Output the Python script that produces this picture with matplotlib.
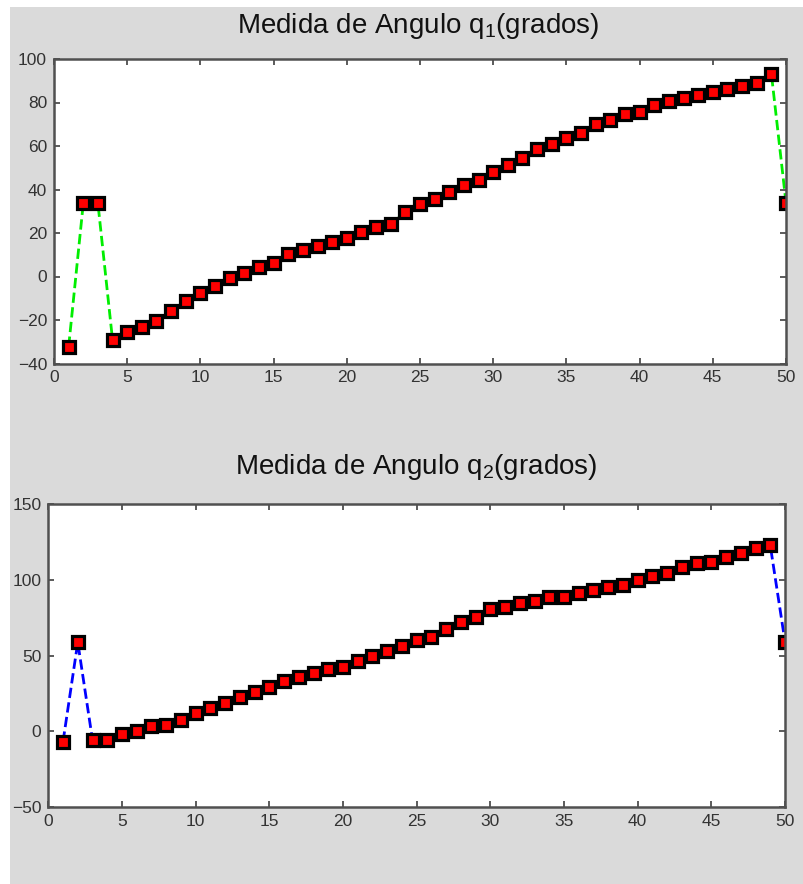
#! /usr/bin/env python

import numpy as np
import matplotlib
matplotlib.use("Agg")
import matplotlib.pyplot as plt
from matplotlib.patches import Rectangle

# muestras
n = np.arange(1, 51)

# angulo q1 (grados)
q1 = [-32.3, 33.6, 33.6, -29.3, -25.6, -23.4, -20.4, -15.8, -11.2, -7.5,
      -4.3, -0.9, 1.7, 4.2, 6.3, 10.2, 12.0, 13.8, 15.8, 17.8,
      20.3, 22.9, 24.1, 29.5, 33.3, 35.7, 39.0, 42.2, 44.2, 48.2,
      51.2, 54.6, 58.5, 60.9, 63.5, 66.1, 70.0, 72.0, 74.5, 75.8,
      79.0, 80.8, 82.2, 83.4, 84.7, 86.1, 87.4, 88.8, 93.3, 33.9]

# angulo q2 (grados)
q2 = [-6.7, 58.8, -5.6, -5.8, -1.8, 0.0, 3.7, 4.5, 7.6, 12.0,
      15.7, 18.6, 23.0, 26.1, 29.6, 33.1, 35.8, 38.8, 41.4, 42.6,
      46.5, 50.0, 52.9, 56.4, 60.1, 62.3, 67.4, 72.2, 75.7, 80.6,
      82.3, 84.7, 86.1, 88.7, 88.6, 91.3, 93.5, 95.3, 96.8, 99.9,
      102.7, 104.7, 108.5, 111.1, 112.0, 115.3, 117.7, 121.0, 122.7, 59.2]

plt.rcParams['font.family'] = ['Liberation Sans', 'DejaVu Sans']
plt.rcParams['mathtext.fontset'] = 'custom'
plt.rcParams['mathtext.rm'] = 'Liberation Sans'
plt.rcParams['mathtext.it'] = 'Liberation Sans'

W, H = 804, 884
fig = plt.figure(figsize=(W / 100.0, H / 100.0), dpi=100, facecolor='white')
fig.patches.append(Rectangle((10.0 / W, 0), 1, 1 - 7.0 / H, transform=fig.transFigure,
                             facecolor='#dadada', edgecolor='none', zorder=-10))


def px_axes(left, top, right, bottom):
    return fig.add_axes([left / W, 1 - bottom / H, (right - left) / W, (bottom - top) / H])


def style(ax, ticks, lim):
    ax.set_xlim(0, 50)
    ax.set_xticks(np.arange(0, 51, 5))
    ax.set_ylim(lim)
    ax.set_yticks(ticks)
    ax.tick_params(direction='in', top=True, right=True, length=4, width=1.2,
                   labelsize=12.5, labelcolor='#333333', color='#404040', pad=5)
    for s in ax.spines.values():
        s.set_color('#505050')
        s.set_linewidth(1.8)


mk = dict(marker='s', markersize=8, markerfacecolor='red',
          markeredgecolor='black', markeredgewidth=2.3, linestyle='--', linewidth=2)

ax1 = px_axes(54, 59, 786, 363.5)
ax1.plot(n, q1, color='#00ee00', **mk)
style(ax1, np.arange(-40, 101, 20), (-40, 100))

ax2 = px_axes(48.3, 504, 785, 807.3)
ax2.plot(n, q2, color='#0000ff', **mk)
style(ax2, np.arange(-50, 151, 50), (-50, 150))

# titulos colocados en pixeles de la figura
fig.text(418 / W, 1 - 33.0 / H, r'Medida de Angulo q$\mathregular{_1}$(grados)',
         fontsize=20, ha='center', va='baseline', color='#111111')
fig.text(416 / W, 1 - 474.0 / H, r'Medida de Angulo q$\mathregular{_2}$(grados)',
         fontsize=20, ha='center', va='baseline', color='#111111')

plt.savefig("out.png", dpi=100, facecolor=fig.get_facecolor())
